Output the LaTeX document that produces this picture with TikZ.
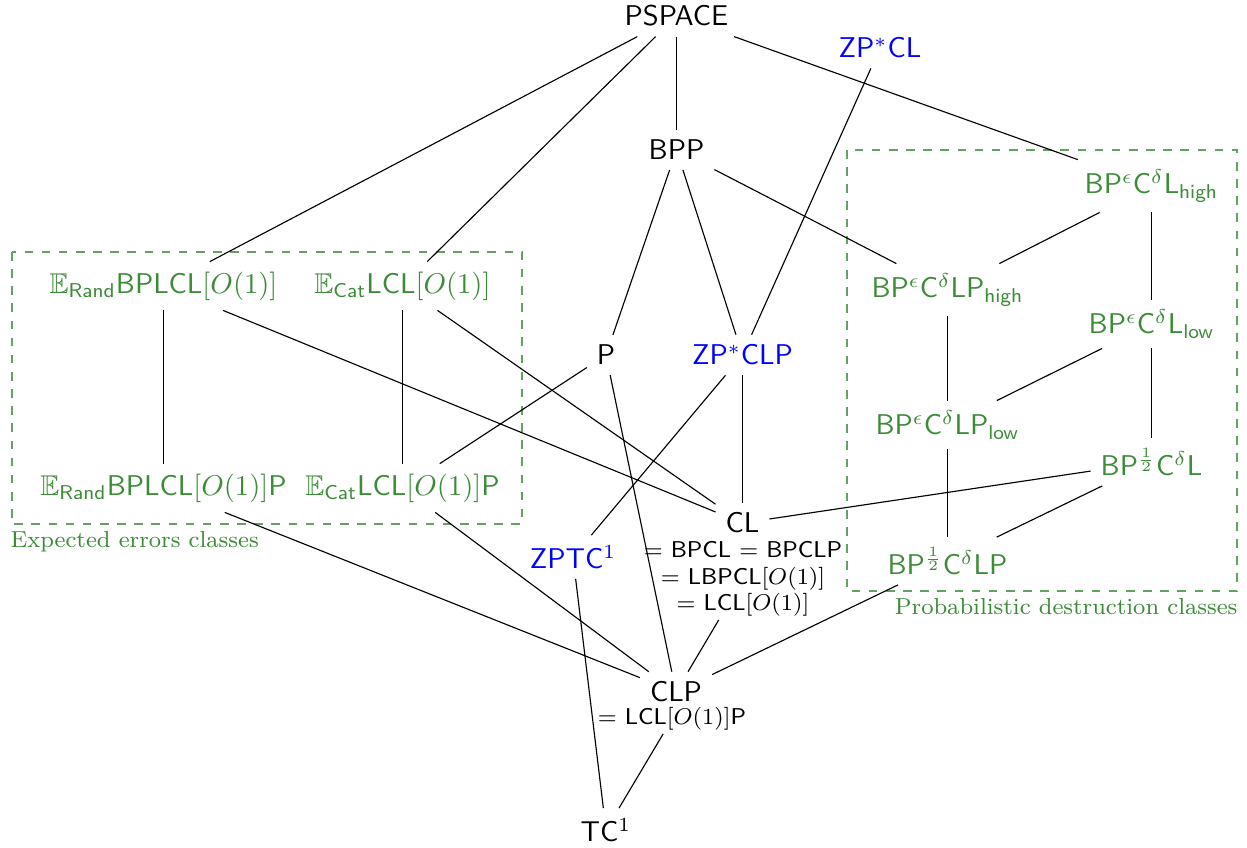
\documentclass[tikz,border=0pt]{standalone}
\usepackage{amsmath,amssymb}
\begin{document}
\definecolor{mygreen}{RGB}{60,140,55}
\tikzset{
  cls/.style={font=\sffamily},
  grn/.style={cls,text=mygreen},
  blu/.style={cls,text=blue},
  subtxt/.style={font=\sffamily\fontsize{8}{9.3}\selectfont, align=center, inner sep=1pt},
  grpbox/.style={draw=mygreen!80, dashed},
  grplabel/.style={font=\fontsize{8.1}{10}\selectfont, text=mygreen, inner sep=0pt},
  edge/.style={draw=black, line width=0.4pt}
}
\begin{tikzpicture}[x=0.35pt,y=-0.35pt]
\useasboundingbox (0,0) rectangle (1247,847);
% group boxes
\draw[grpbox] (12,252) rectangle (522,524);
\node[grplabel, anchor=north west] (lblE) at (10,531) {Expected errors classes};
\draw[grpbox] (847,150) rectangle (1237,591);
\node[grplabel, anchor=north east] (lblP) at (1238,598) {Probabilistic destruction classes};
% nodes
\node[cls] (pspace) at (676.5,16) {PSPACE};
\node[blu] (zpcl) at (880,48) {ZP$^*$CL};
\node[cls] (bpp) at (676.5,150) {BPP};
\node[grn] (lhigh) at (1151.5,186) {BP$^\epsilon$C$^\delta$L$_{\textsf{high}}$};
\node[grn] (er) at (163.5,286) {$\mathbb{E}_{\textsf{Rand}}$BPLCL$[O(1)]$};
\node[grn] (ec) at (402.5,286) {$\mathbb{E}_{\textsf{Cat}}$LCL$[O(1)]$};
\node[grn] (lphigh) at (947.5,290) {BP$^\epsilon$C$^\delta$LP$_{\textsf{high}}$};
\node[cls] (p) at (606,355) {P};
\node[blu] (zpclp) at (742.5,355) {ZP$^*$CLP};
\node[grn] (llow) at (1151.5,324) {BP$^\epsilon$C$^\delta$L$_{\textsf{low}}$};
\node[grn] (lplow) at (947.5,425) {BP$^\epsilon$C$^\delta$LP$_{\textsf{low}}$};
\node[grn] (erp) at (163.5,488) {$\mathbb{E}_{\textsf{Rand}}$BPLCL$[O(1)]$P};
\node[grn] (ecp) at (402.5,488) {$\mathbb{E}_{\textsf{Cat}}$LCL$[O(1)]$P};
\node[grn] (hl) at (1151.5,462) {BP$^{\frac12}$C$^\delta$L};
\node[cls] (cl) at (742.5,523) {CL};
\node[subtxt] (cleq) at (743,579) {$=$ BPCL $=$ BPCLP\\$=$ LBPCL$[O(1)]$\\$=$ LCL$[O(1)]$};
\node[blu] (zptc) at (573,557) {ZPTC$^1$};
\node[grn] (hlp) at (947.5,561) {BP$^{\frac12}$C$^\delta$LP};
\node[cls] (clp) at (676,692) {CLP};
\node[subtxt] (clpeq) at (672,719) {$=$ LCL$[O(1)]$P};
\node[cls] (tc) at (606,830) {TC$^1$};
% edges
\draw[edge] (pspace) -- (er);
\draw[edge] (pspace) -- (ec);
\draw[edge] (pspace) -- (bpp);
\draw[edge] (pspace) -- (lhigh);
\draw[edge] (zpcl) -- (zpclp);
\draw[edge] (bpp) -- (p);
\draw[edge] (bpp) -- (zpclp);
\draw[edge] (bpp) -- (lphigh);
\draw[edge] (lhigh) -- (lphigh);
\draw[edge] (lhigh) -- (llow);
\draw[edge] (lphigh) -- (lplow);
\draw[edge] (llow) -- (lplow);
\draw[edge] (llow) -- (hl);
\draw[edge] (lplow) -- (hlp);
\draw[edge] (hl) -- (hlp);
\draw[edge] (hl) -- (cl);
\draw[edge] (hlp) -- (clp);
\draw[edge] (er) -- (erp);
\draw[edge] (ec) -- (ecp);
\draw[edge] (er) -- (cl);
\draw[edge] (ec) -- (cl);
\draw[edge] (p) -- (ecp);
\draw[edge] (p) -- (clp);
\draw[edge] (zpclp) -- (zptc);
\draw[edge] (zpclp) -- (cl);
\draw[edge] (erp) -- (clp);
\draw[edge] (ecp) -- (clp);
\draw[edge] (cleq) -- (clp);
\draw[edge] (zptc) -- (tc);
\draw[edge] (clpeq) -- (tc);
\end{tikzpicture}
\end{document}
